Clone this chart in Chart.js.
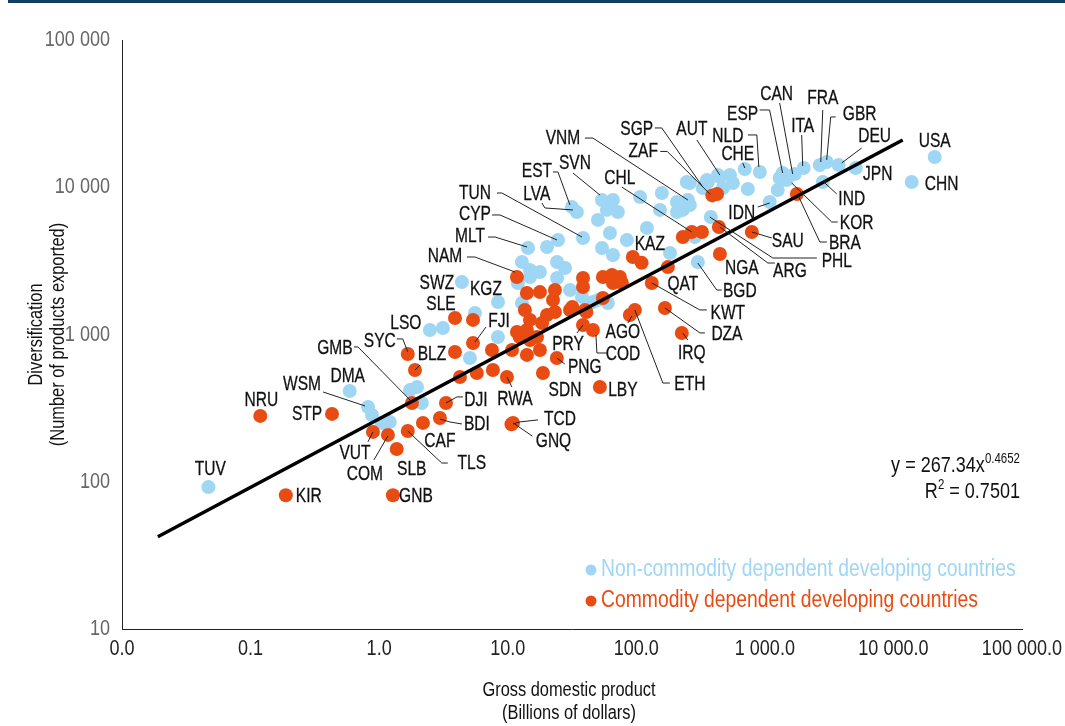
<!DOCTYPE html>
<html>
<head>
<meta charset="utf-8">
<script src="https://cdn.jsdelivr.net/npm/chart.js@4.4.1/dist/chart.umd.min.js"></script>
<style>
html, body { margin: 0; padding: 0; background: #fff; }
#wrap { position: relative; width: 1065px; height: 726px; }
#topbar { position: absolute; left: 8px; top: 0; width: 1057px; height: 3px; background: #123e60; }
</style>
</head>
<body>
<div id="wrap">
  <div id="topbar"></div>
  <canvas id="chart" width="1065" height="726"></canvas>
</div>
<script>
// axis ticks
const xTicks = [0.01, 0.1, 1, 10, 100, 1000, 10000, 100000];
const xTickLabels = ["0.0", "0.1", "1.0", "10.0", "100.0", "1 000.0", "10 000.0", "100 000.0"];
const yTicks = [10, 100, 1000, 10000, 100000];
const yTickLabels = ["10", "100", "1 000", "10 000", "100 000"];

// non-commodity dependent developing countries (GDP bn $, number of products)
const ncCodes = ["TUV","DMA","WSM","","","","","","","SWZ","KGZ","LSO","","","","","MLT","","CYP","TUN",
  "","","","","","","","","","","","","EST","LVA","SVN","","","","","",
  "","","","","","","","VNM","","","","","","","SGP","","","","AUT","",
  "","","","CHE","NLD","","ESP","","CAN","ITA","FRA","GBR","DEU","JPN","USA","CHN","IND","KOR","","IDN",
  "PHL","BGD","","",""];
const ncGdp = [0.047,0.59,0.82,0.88,1.05,1.21,1.74,1.97,2.15,4.4,8.4,2.48,3.13,5.56,8.39,5.08,14.4,20.2,24.6,38.5,
  12.9,14.9,24.2,27.9,17.8,14.9,12.0,24.2,30.5,37.8,46.0,12.9,31.6,34.5,54.1,65.8,59.1,71.9,50.3,62.4,
  84.5,121,54.1,65.8,183,107,158,252,207,247,207,153,354,431,329,261,261,230,447,361,
  535,564,472,698,914,738,1374,1303,1706,2005,2673,3027,3750,5090,20950,13870,2820,1479,1259,1091,
  380,301,285,50.3,60.1];
const ncDiv = [92,413,322,284,251,255,420,440,343,2275,1663,1073,1107,1400,962,692,3866,3927,4385,4520,
  3105,2740,3105,2830,2655,2458,2240,2420,2005,1800,1663,1637,7345,6795,8185,8185,7015,6795,6000,4890,
  4385,5295,3866,3467,3575,8590,9140,8185,7940,10860,6795,7015,11200,12100,9890,10690,7570,7015,11730,10860,
  12100,10690,9890,13300,12700,9730,12500,11560,12300,13500,14160,14850,14160,13500,16030,10860,10860,11200,9570,7940,
  6280,3105,4590,1715,1637];

// commodity dependent developing countries
const cdCodes = ["NRU","STP","KIR","GNB","VUT","COM","SLB","TLS","CAF","BDI","DJI","GMB","SYC","BLZ","SLE","","FJI","","","",
  "","RWA","","","","","","","","","","","","","","","","","","",
  "","","NAM","","","","","","","","","","","PRY","COD","PNG","SDN","LBY","TCD","GNQ",
  "KAZ","","QAT","KWT","DZA","ETH","AGO","IRQ","","CHL","","ARG","SAU","NGA","BRA","ZAF",""];
const cdGdp = [0.119,0.43,0.188,1.28,0.895,1.17,1.37,1.67,2.19,2.97,3.31,1.80,1.67,1.90,3.89,3.89,5.37,5.37,4.25,5.75,
  7.67,9.86,7.54,10.8,12.4,14.9,16.9,14.1,17.8,11.8,14.1,14.9,18.5,13.6,20.2,23.3,30.5,39.9,22.5,23.3,
  17.8,14.1,11.8,38.5,38.5,55.0,64.6,74.5,65.8,77.3,55.0,31.8,40.9,38.5,46.0,24.1,18.8,52.1,11.0,10.7,
  94.0,110,176,132,167,97.5,89.1,226,230,270,324,439,792,447,1774,390,425];
const cdDiv = [280,289,81,81,218,208,167,221,251,271,343,343,738,574,1295,760,875,1256,514,548,
  574,514,785,785,962,918,962,727,785,1040,1073,1256,1197,1466,1355,1422,1466,1466,1715,2005,
  1941,1914,2458,2420,2104,2458,2535,2458,2240,2240,1771,1538,1422,1161,1073,692,548,440,251,246,
  3357,3065,2870,2240,1515,1466,1355,1023,4590,4965,4965,5370,4965,3525,8995,8800,9000];

// power trend line shown on the chart
const trendA = 267.34;
const trendB = 0.4652;
const trendFrom = 0.019;
const trendTo = 11800;

const FONT = "'Liberation Sans', Arial, sans-serif";
const BLUE = "#9fd6f4";
const ORANGE = "#e84c13";

// label placement, pixel offsets from the point (text centre and leader path)
const labelLayout = {
  TUV: {dx: 2, dy: -19}, DMA: {dx: -2, dy: -16},
  WSM: {dx: -66, dy: -24, lead: [[-45, -15], [-3, -1]]},
  LSO: {dx: -24, dy: -8}, SWZ: {dx: -25, dy: 0}, KGZ: {dx: -12, dy: -14},
  MLT: {dx: -58, dy: -13, lead: [[-40, -11], [-33, -11], [-1, -1]]},
  CYP: {dx: -83, dy: -27, lead: [[-66, -25], [-58, -25], [-1, 0]]},
  TUN: {dx: -108, dy: -46, lead: [[-86, -45], [-81, -45], [-1, -1]]},
  EST: {dx: -35, dy: -37, lead: [[-19, -35], [-14, -35], [-2, -2]]},
  LVA: {dx: -40, dy: -19, lead: [[-35, -9], [-32, -4], [-4, -2]]},
  SVN: {dx: -27, dy: -38, lead: [[-29, -27], [-2, -5]]},
  VNM: {dx: -125, dy: -63, lead: [[-103, -62], [-95, -62], [0, 0]]},
  SGP: {dx: -66, dy: -60, lead: [[-48, -60], [-41, -60], [0, -1]]},
  AUT: {dx: -28, dy: -49, lead: [[-23, -37], [0, -2]]},
  CHE: {dx: -7, dy: -16, lead: [[-2, -6], [0, -1]]},
  NLD: {dx: -32, dy: -37, lead: [[-12, -37], [-3, -37], [-1, -5]]},
  ESP: {dx: -40, dy: -60, lead: [[-23, -63], [-13, -63], [0, 0]]},
  CAN: {dx: -18, dy: -81, lead: [[-15, -71], [-2, 0]]},
  ITA: {dx: -1, dy: -43, lead: [[-2, -33], [-1, -2]]},
  FRA: {dx: 3, dy: -68, lead: [[3, -55], [1, -3]]},
  GBR: {dx: 33, dy: -49, lead: [[9, -45], [4, -45], [0, -2]]},
  DEU: {dx: 36, dy: -30, lead: [[23, -17], [3, -2]]},
  JPN: {dx: 22, dy: 5}, USA: {dx: 0, dy: -17}, CHN: {dx: 30, dy: 1},
  IND: {dx: 29, dy: 16, lead: [[14, 12], [1, 0]]},
  KOR: {dx: 70, dy: 42, lead: [[51, 42], [45, 42], [5, 3]]},
  IDN: {dx: -28, dy: 10, lead: [[-12, 5], [0, 1]]},
  PHL: {dx: 126, dy: 43, lead: [[106, 41], [62, 41], [-1, 0]]},
  BGD: {dx: 42, dy: 28, lead: [[24, 28], [19, 28], [0, 1]]},
  NRU: {dx: 1, dy: -17}, STP: {dx: -25, dy: -1}, KIR: {dx: 23, dy: 0}, GNB: {dx: 23, dy: 0},
  VUT: {dx: -18, dy: 20, lead: [[-5, 10], [0, 0]]},
  COM: {dx: -23, dy: 38, lead: [[-14, 25], [0, 1]]},
  SLB: {dx: 15, dy: 19},
  TLS: {dx: 64, dy: 31, lead: [[40, 32], [34, 32], [0, 0]]},
  CAF: {dx: 17, dy: 17},
  BDI: {dx: 37, dy: 5, lead: [[22, 6], [10, 4], [0, 1]]},
  DJI: {dx: 30, dy: -4, lead: [[17, -6], [11, -6], [0, 0]]},
  GMB: {dx: -77, dy: -56, lead: [[-58, -56], [-54, -56], [-2, -3]]},
  SYC: {dx: -28, dy: -14, lead: [[-11, -15], [-5, -15], [0, -2]]},
  BLZ: {dx: 17, dy: -17, lead: [[5, -5], [0, 0]]},
  SLE: {dx: -14, dy: -15},
  FJI: {dx: 26, dy: -23, lead: [[13, -16], [2, -1]]},
  RWA: {dx: 8, dy: 21, lead: [[5, 10], [0, 0]]},
  NAM: {dx: -72, dy: -22, lead: [[-50, -20], [-42, -20], [-2, -5]]},
  PRY: {dx: -15, dy: 18, lead: [[-6, 8], [0, 0]]},
  COD: {dx: 30, dy: 23, lead: [[14, 23], [4, 23], [3, 5]]},
  PNG: {dx: 28, dy: 8, lead: [[8, 6], [0, 0]]},
  SDN: {dx: 22, dy: 16}, LBY: {dx: 23, dy: 2},
  TCD: {dx: 47, dy: -5, lead: [[25, -3], [7, -1], [0, 1]]},
  GNQ: {dx: 42, dy: 16, lead: [[21, 12], [2, -1]]},
  KAZ: {dx: 17, dy: -14}, QAT: {dx: 15, dy: 16},
  KWT: {dx: 76, dy: 29, lead: [[55, 27], [48, 27], [0, 0]]},
  DZA: {dx: 62, dy: 25, lead: [[40, 25], [35, 25], [0, 0]]},
  IRQ: {dx: 10, dy: 19, lead: [[6, 7], [1, 0]]},
  ETH: {dx: 55, dy: 73, lead: [[35, 73], [28, 73], [0, 0]]},
  AGO: {dx: -7, dy: 16, lead: [[-2, 8], [2, 1]]},
  CHL: {dx: -72, dy: -55, lead: [[-70, -45], [0, 0]]},
  ARG: {dx: 71, dy: 43, lead: [[56, 36], [49, 36], [1, 0]]},
  SAU: {dx: 36, dy: 8, lead: [[20, 6], [0, 0]]},
  NGA: {dx: 22, dy: 13},
  BRA: {dx: 48, dy: 48, lead: [[30, 48], [23, 48], [1, 1]]},
  ZAF: {dx: -69, dy: -45, lead: [[-52, -44], [-45, -44], [-2, -1]]}
};

function toPoints(xs, ys) {
  return xs.map((x, i) => ({x: x, y: ys[i]}));
}

// condensed text: regular face squeezed horizontally
function narrowText(ctx, text, x, y, size, sx, align, baseline, bold) {
  ctx.save();
  ctx.translate(x, y);
  ctx.scale(sx, 1);
  ctx.font = size + "px " + FONT;
  ctx.textAlign = align || "center";
  ctx.textBaseline = baseline || "middle";
  ctx.fillText(text, 0, 0);
  if (bold) {
    ctx.strokeStyle = ctx.fillStyle;
    ctx.lineWidth = bold;
    ctx.strokeText(text, 0, 0);
  }
  ctx.restore();
}

function narrowWidth(ctx, text, size, sx) {
  ctx.save();
  ctx.font = size + "px " + FONT;
  const w = ctx.measureText(text).width * sx;
  ctx.restore();
  return w;
}

const trendPoints = [trendFrom, trendTo].map(x => ({x: x, y: trendA * Math.pow(x, trendB)}));

// country codes, leader lines, legend, equation, ticks and axis titles
const annotate = {
  id: "annotate",
  afterDatasetsDraw(chart) {
    const ctx = chart.ctx;
    const sets = [[0, ncCodes], [1, cdCodes]];
    ctx.save();
    ctx.strokeStyle = "#222";
    ctx.lineWidth = 1;
    sets.forEach(([di, codes]) => {
      const meta = chart.getDatasetMeta(di);
      codes.forEach((code, i) => {
        const lay = labelLayout[code];
        if (!code || !lay || !lay.lead) return;
        const p = meta.data[i];
        ctx.beginPath();
        lay.lead.forEach((o, k) => {
          if (k === 0) ctx.moveTo(p.x + o[0], p.y + o[1]);
          else ctx.lineTo(p.x + o[0], p.y + o[1]);
        });
        ctx.stroke();
      });
    });
    ctx.fillStyle = "#111";
    sets.forEach(([di, codes]) => {
      const meta = chart.getDatasetMeta(di);
      codes.forEach((code, i) => {
        const lay = labelLayout[code];
        if (!code || !lay) return;
        const p = meta.data[i];
        narrowText(ctx, code, p.x + lay.dx, p.y + lay.dy + 1, 21, 0.74, "center", "middle", 0.3);
      });
    });
    ctx.restore();
  },
  afterDraw(chart) {
    const ctx = chart.ctx;
    const area = chart.chartArea;
    const xs = chart.scales.x, ys = chart.scales.y;
    ctx.save();

    // tick labels
    ctx.fillStyle = "#222";
    xTicks.forEach((v, i) => narrowText(ctx, xTickLabels[i], xs.getPixelForValue(v), area.bottom + 20, 22, 0.82));
    ctx.fillStyle = "#666";
    yTicks.forEach((v, i) => narrowText(ctx, yTickLabels[i], area.left - 12, ys.getPixelForValue(v), 22, 0.82, "right"));

    // legend
    const dotX = area.right - 431;
    const rows = [area.bottom - 59, area.bottom - 28];
    chart.data.datasets.slice(0, 2).forEach((ds, i) => {
      ctx.fillStyle = ds.backgroundColor;
      ctx.beginPath();
      ctx.arc(dotX, rows[i], 5.5, 0, Math.PI * 2);
      ctx.fill();
      narrowText(ctx, ds.label, dotX + 10, rows[i], 23, 0.84, "left");
    });

    // trend equation
    ctx.fillStyle = "#111";
    const R = area.right - 2;
    const sup = String(trendB);
    const supW = narrowWidth(ctx, sup, 14, 0.82);
    narrowText(ctx, sup, R - supW, area.bottom - 166, 14, 0.82, "left", "alphabetic");
    narrowText(ctx, "y = " + trendA + "x", R - supW, area.bottom - 157, 22, 0.82, "right", "alphabetic");
    const r2 = " = 0.7501";
    const r2W = narrowWidth(ctx, r2, 22, 0.82);
    narrowText(ctx, r2, R, area.bottom - 131, 22, 0.82, "right", "alphabetic");
    const twoW = narrowWidth(ctx, "2", 14, 0.82);
    narrowText(ctx, "2", R - r2W, area.bottom - 140, 14, 0.82, "right", "alphabetic");
    narrowText(ctx, "R", R - r2W - twoW, area.bottom - 131, 22, 0.82, "right", "alphabetic");

    // axis titles
    const cx = (area.left + area.right) / 2;
    narrowText(ctx, "Gross domestic product", cx - 3, 690, 20, 0.82);
    narrowText(ctx, "(Billions of dollars)", cx - 3, 713, 20, 0.82);
    const cy = (area.top + area.bottom) / 2;
    ctx.translate(36, cy);
    ctx.rotate(-Math.PI / 2);
    narrowText(ctx, "Diversification", 0, 0, 20, 0.82);
    narrowText(ctx, "(Number of products exported)", 0, 22, 20, 0.82);
    ctx.restore();
  }
};

new Chart(document.getElementById("chart"), {
  type: "scatter",
  data: {
    datasets: [
      {
        label: "Non-commodity dependent developing countries",
        data: toPoints(ncGdp, ncDiv),
        backgroundColor: BLUE,
        borderWidth: 0,
        pointRadius: 7,
        order: 2
      },
      {
        label: "Commodity dependent developing countries",
        data: toPoints(cdGdp, cdDiv),
        backgroundColor: ORANGE,
        borderWidth: 0,
        pointRadius: 7,
        order: 1
      },
      {
        type: "line",
        label: "Trend",
        data: trendPoints,
        borderColor: "#000",
        borderWidth: 3.5,
        pointRadius: 0,
        fill: false,
        order: 0
      }
    ]
  },
  options: {
    responsive: false,
    animation: false,
    devicePixelRatio: 1,
    layout: { padding: { top: 40, right: 43, left: 0, bottom: 0 } },
    plugins: { legend: { display: false }, tooltip: { enabled: false } },
    scales: {
      x: {
        type: "logarithmic",
        min: 0.01,
        max: 100000,
        grid: { display: false, drawTicks: false },
        border: { display: true, color: "#222", width: 1 },
        afterBuildTicks: s => { s.ticks = xTicks.map(v => ({value: v})); },
        afterFit: s => { s.height = 97; },
        ticks: { display: false }
      },
      y: {
        type: "logarithmic",
        min: 10,
        max: 100000,
        grid: { display: false, drawTicks: false },
        border: { display: true, color: "#222", width: 1 },
        afterBuildTicks: s => { s.ticks = yTicks.map(v => ({value: v})); },
        afterFit: s => { s.width = 122; },
        ticks: { display: false }
      }
    }
  },
  plugins: [annotate]
});
</script>
</body>
</html>
